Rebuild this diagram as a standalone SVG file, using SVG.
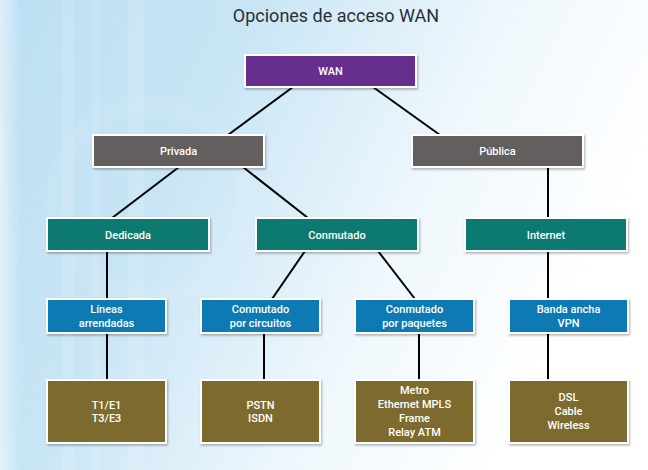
<svg xmlns="http://www.w3.org/2000/svg" width="648" height="470" viewBox="0 0 648 470">
  <defs>
    <linearGradient id="bg" x1="0" y1="0" x2="1" y2="0.35">
      <stop offset="0" stop-color="#bddff3"/>
      <stop offset="0.35" stop-color="#c8e5f5"/>
      <stop offset="0.7" stop-color="#eef7fc"/>
      <stop offset="1" stop-color="#ffffff"/>
    </linearGradient>
    <linearGradient id="fadeEdge" x1="0" y1="0" x2="1" y2="0">
      <stop offset="0" stop-color="#ffffff" stop-opacity="0.5"/>
      <stop offset="1" stop-color="#ffffff" stop-opacity="0"/>
    </linearGradient>
    <filter id="shadow" x="-10%" y="-20%" width="120%" height="150%">
      <feDropShadow dx="1" dy="1.5" stdDeviation="1.2" flood-color="#000" flood-opacity="0.3"/>
    </filter>
  </defs>
  <style>
    .box { stroke: #ffffff; stroke-width: 2; filter: url(#shadow); }
    .wan { fill: #662d8d; }
    .grey { fill: #645e5e; }
    .teal { fill: #0c7a72; }
    .blue { fill: #0a7ab4; }
    .olive { fill: #7b6a2f; }
    .lbl { font-family: Roboto, "Liberation Sans", sans-serif; font-size: 11px; font-weight: 500; fill: #ffffff; text-anchor: middle; }
    .title { font-family: Roboto, "Liberation Sans", sans-serif; font-size: 18px; font-weight: 400; fill: #2b2f33; text-anchor: middle; }
    .link { stroke: #000000; stroke-width: 2; fill: none; }
  </style>

  <!-- background wash with soft vertical bands -->
  <rect x="0" y="0" width="648" height="470" fill="url(#bg)"/>
  <rect x="0" y="0" width="20" height="470" fill="url(#fadeEdge)"/>
  <g fill="#ffffff" opacity="0.12">
    <rect x="62" y="0" width="12" height="470"/>
    <rect x="92" y="0" width="8" height="470"/>
    <rect x="128" y="0" width="16" height="470"/>
  </g>
  <g fill="none" stroke="#ffffff" stroke-opacity="0.07" stroke-width="18">
    <circle cx="150" cy="200" r="95"/>
    <circle cx="380" cy="330" r="70"/>
  </g>

  <text class="title" x="336" y="22">Opciones de acceso WAN</text>

  <!-- connectors -->
  <g id="connectors">
    <line class="link" x1="293" y1="87" x2="228" y2="135"/>
    <line class="link" x1="373" y1="87" x2="440" y2="135"/>
    <line class="link" x1="179" y1="167" x2="112" y2="218"/>
    <line class="link" x1="243" y1="167" x2="308" y2="218"/>
    <line class="link" x1="548" y1="167" x2="548" y2="218"/>
    <line class="link" x1="107" y1="251" x2="107" y2="299"/>
    <line class="link" x1="305" y1="251" x2="272" y2="299"/>
    <line class="link" x1="378" y1="251" x2="415" y2="299"/>
    <line class="link" x1="548" y1="251" x2="548" y2="299"/>
    <line class="link" x1="107" y1="333" x2="107" y2="380"/>
    <line class="link" x1="264" y1="333" x2="264" y2="380"/>
    <line class="link" x1="419" y1="333" x2="419" y2="380"/>
    <line class="link" x1="548" y1="333" x2="548" y2="380"/>
  </g>

  <!-- level 0 -->
  <g id="wan">
    <rect class="box wan" x="245" y="55" width="171" height="32"/>
    <text class="lbl" x="330.5" y="75">WAN</text>
  </g>

  <!-- level 1 -->
  <g id="privada">
    <rect class="box grey" x="93" y="135" width="171" height="32"/>
    <text class="lbl" x="178.5" y="155">Privada</text>
  </g>
  <g id="publica">
    <rect class="box grey" x="412" y="135" width="171" height="32"/>
    <text class="lbl" x="497.5" y="155">Pública</text>
  </g>

  <!-- level 2 -->
  <g id="dedicada">
    <rect class="box teal" x="47" y="218" width="162" height="33"/>
    <text class="lbl" x="128" y="238.5">Dedicada</text>
  </g>
  <g id="conmutado">
    <rect class="box teal" x="256" y="218" width="162" height="33"/>
    <text class="lbl" x="337" y="238.5">Conmutado</text>
  </g>
  <g id="internet">
    <rect class="box teal" x="465" y="218" width="162" height="33"/>
    <text class="lbl" x="546" y="238.5">Internet</text>
  </g>

  <!-- level 3 -->
  <g id="lineas">
    <rect class="box blue" x="47" y="299" width="119" height="34"/>
    <text class="lbl" x="106.5" y="313">Líneas</text>
    <text class="lbl" x="106.5" y="327">arrendadas</text>
  </g>
  <g id="circuitos">
    <rect class="box blue" x="201" y="299" width="119" height="34"/>
    <text class="lbl" x="260.5" y="313">Conmutado</text>
    <text class="lbl" x="260.5" y="327">por circuitos</text>
  </g>
  <g id="paquetes">
    <rect class="box blue" x="355" y="299" width="119" height="34"/>
    <text class="lbl" x="414.5" y="313">Conmutado</text>
    <text class="lbl" x="414.5" y="327">por paquetes</text>
  </g>
  <g id="banda">
    <rect class="box blue" x="509" y="299" width="119" height="34"/>
    <text class="lbl" x="568.5" y="313">Banda ancha</text>
    <text class="lbl" x="568.5" y="327">VPN</text>
  </g>

  <!-- level 4 -->
  <g id="t1e1">
    <rect class="box olive" x="47" y="380" width="119" height="63"/>
    <text class="lbl" x="106.5" y="408.5">T1/E1</text>
    <text class="lbl" x="106.5" y="422">T3/E3</text>
  </g>
  <g id="pstn">
    <rect class="box olive" x="201" y="380" width="119" height="63"/>
    <text class="lbl" x="260.5" y="408.5">PSTN</text>
    <text class="lbl" x="260.5" y="422">ISDN</text>
  </g>
  <g id="metro">
    <rect class="box olive" x="355" y="380" width="119" height="63"/>
    <text class="lbl" x="414.5" y="394">Metro</text>
    <text class="lbl" x="414.5" y="408">Ethernet MPLS</text>
    <text class="lbl" x="414.5" y="422">Frame</text>
    <text class="lbl" x="414.5" y="436">Relay ATM</text>
  </g>
  <g id="dsl">
    <rect class="box olive" x="509" y="380" width="119" height="63"/>
    <text class="lbl" x="568.5" y="401">DSL</text>
    <text class="lbl" x="568.5" y="415">Cable</text>
    <text class="lbl" x="568.5" y="429">Wireless</text>
  </g>
</svg>
